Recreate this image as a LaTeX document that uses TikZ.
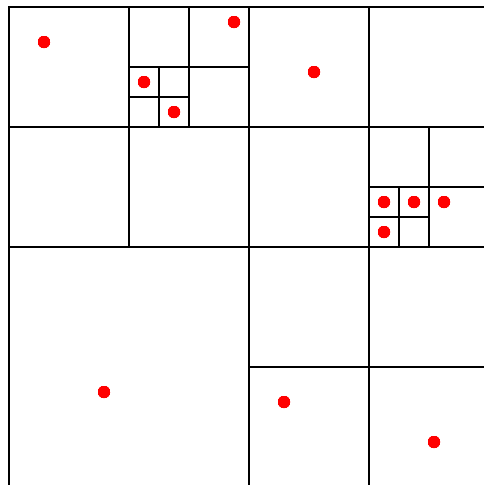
\documentclass[tikz,border=0pt]{standalone}
\newcommand{\qsplit}[3]{\draw (#1+#3/2,#2) -- ++(0,#3) (#1,#2+#3/2) -- ++(#3,0);}
\begin{document}
\begin{tikzpicture}[x=1pt,y=-1pt,line width=2pt,dot/.style={fill=red}]
\useasboundingbox (0,0) rectangle (484,485);
\clip (0,0) rectangle (484,485);
% outer square
\draw (9,7) rectangle (489,487);
% subdivisions x/y/size
\foreach \x/\y/\s in {9/7/480,9/7/240,249/7/240,249/247/240,129/7/120,129/67/60,369/127/120,369/187/60}
  \qsplit{\x}{\y}{\s}
% points
\foreach \x/\y in {44/42,234/22,144/82,174/112,314/72,384/202,414/202,444/202,384/232,104/392,284/402,434/442}
  \fill[dot] (\x,\y) circle (6);
\end{tikzpicture}
\end{document}
